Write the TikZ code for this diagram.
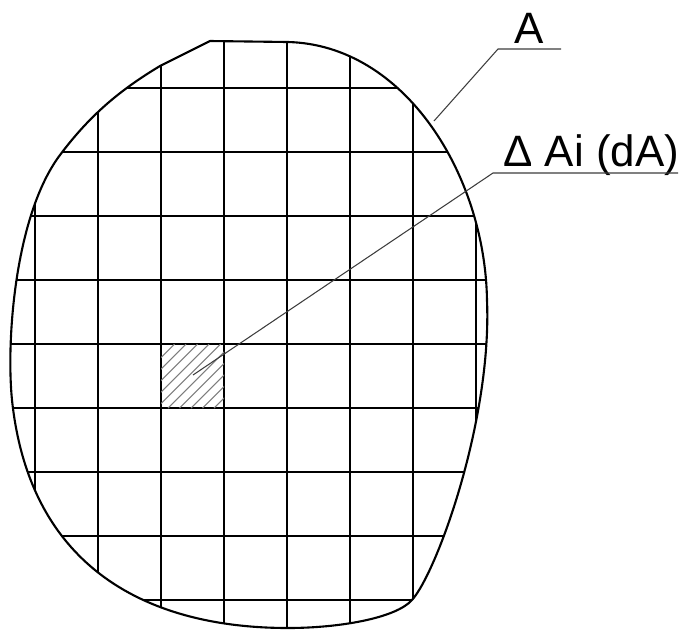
\documentclass[tikz,border=0pt]{standalone}
\usepackage{fontspec}
\setmainfont{Liberation Sans}
\usetikzlibrary{positioning}
\definecolor{hatchgray}{RGB}{125,125,125}
\definecolor{leadgray}{RGB}{60,60,60}

\begin{document}
\begin{tikzpicture}[
    x=0.02cm,y=-0.02cm,
    font=\fontsize{25}{29}\selectfont,
    outline/.style={line width=1.2pt,line join=round},
    gridline/.style={line width=0.8pt},
    hatch/.style={line width=0.6pt,hatchgray},
    leader/.style={line width=0.6pt,leadgray},
    tagtext/.style={inner sep=0pt,anchor=base west}
  ]
    \useasboundingbox (0,0) rectangle (684,630);
    \path[save path=\areaouter] (210,41) -- (288,42)
      .. controls (405,45) and (485,175) .. (487,300)
      .. controls (492,420) and (437,572) .. (412,600)
      .. controls (396,618) and (340,628) .. (288,628)
      .. controls (150,628) and (30,570) .. (12,400)
      .. controls (6,340) and (15,215) .. (60,155)
      .. controls (90,115) and (120,90) .. (160,66) -- cycle;
    \begin{scope}
      \clip[use path=\areaouter];
      \foreach \gx in {35,98,...,476}
        \draw[gridline] (\gx,0) -- (\gx,630);
      \foreach \gy in {88,152,...,600}
        \draw[gridline] (0,\gy) -- (684,\gy);
    \end{scope}
    \begin{scope}
      \clip (161,344) rectangle (224,408);
      \foreach \k in {-5,...,4}
        \draw[hatch] (168+11.5*\k,408) -- ++(64,-64);
    \end{scope}
    \draw[outline,use path=\areaouter];
    \node[tagtext] (lblA) at (514,43) {A};
    \node[tagtext] (lblD) at (503,166) {Δ Ai (dA)};
    \coordinate (tipA) at (434,121);
    \coordinate (kneeA) at (498,49);
    \coordinate (endA) at (561,49);
    \coordinate (tipD) at (193,375);
    \coordinate (kneeD) at (493,173);
    \coordinate (endD) at (678,173);
    \draw[leader] (tipA) -- (kneeA) -- (endA);
    \draw[leader] (tipD) -- (kneeD) -- (endD);
  \end{tikzpicture}
\end{document}
